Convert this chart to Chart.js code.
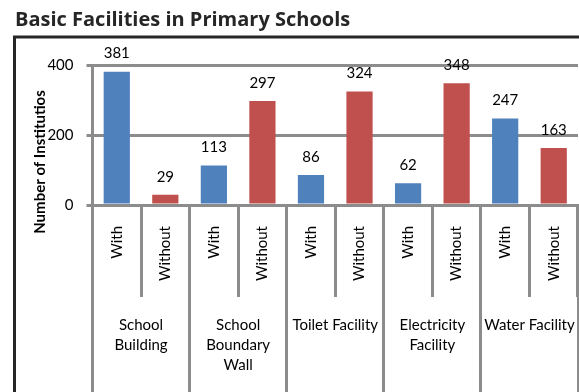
<!DOCTYPE html>
<html><head><meta charset="utf-8">
<script src="https://cdn.jsdelivr.net/npm/chart.js@4"></script>
<style>html,body{margin:0;padding:0;background:#fff}</style>
</head><body><canvas id="c" width="579" height="392"></canvas>
<script>
const titleText = 'Basic Facilities in Primary Schools';
const yAxisTitle = 'Number of Institutios';
const groups = [['School','Building'],['School','Boundary','Wall'],'Toilet Facility',['Electricity','Facility'],'Water Facility'];
const subLabels = ['With','Without'];
const withValues = [381,113,86,62,247];
const withoutValues = [29,297,324,348,163];
const yTicks = [0,200,400];

const FONT = 'Lato, "Open Sans", sans-serif';
const TFONT = '"Open Sans", Lato, sans-serif';
const GRID = '#8c8c8c';
const BLUE = '#4F81BD', RED = '#C0504D';

const labels = [], values = [], colors = [];
groups.forEach((g,i)=>{
  labels.push(subLabels[0]); values.push(withValues[i]); colors.push(BLUE);
  labels.push(subLabels[1]); values.push(withoutValues[i]); colors.push(RED);
});

const framePlugin = {
  id:'frame',
  beforeDraw(chart){
    const c = chart.ctx; c.save();
    c.strokeStyle = '#262626'; c.lineWidth = 3;
    c.strokeRect(14.5, 37, 700, 500);
    c.restore();
  }
};
const valueLabels = {
  id:'valueLabels',
  afterDatasetsDraw(chart){
    const c = chart.ctx; c.save();
    c.font = '15px ' + FONT; c.fillStyle = '#000';
    c.textAlign = 'center'; c.textBaseline = 'middle';
    const ds = chart.data.datasets[0];
    chart.getDatasetMeta(0).data.forEach((bar,i)=>{
      c.fillText(String(ds.data[i]), bar.x, bar.y - 18);
    });
    c.restore();
  }
};
const yTitlePlugin = {
  id:'yTitle',
  afterDraw(chart){
    const c = chart.ctx; c.save();
    c.translate(40, 162); c.rotate(-Math.PI/2);
    c.font = 'bold 15px ' + FONT; c.fillStyle = '#000';
    c.textAlign = 'center'; c.textBaseline = 'middle';
    c.fillText(yAxisTitle, 0, 0);
    c.restore();
  }
};

new Chart(document.getElementById('c'), {
  type:'bar',
  data:{labels, datasets:[{data:values, backgroundColor:colors, barPercentage:0.54, categoryPercentage:1}]},
  options:{
    responsive:false, animation:false, devicePixelRatio:1,
    layout:{padding:{left:15,right:1,top:0,bottom:0}},
    plugins:{
      legend:{display:false}, tooltip:{enabled:false},
      title:{display:true, text:titleText, align:'start', color:'#262626',
        font:{family:TFONT,size:20,weight:'bold'}, padding:{top:8,bottom:33}}
    },
    scales:{
      y:{min:0,max:400,
        afterBuildTicks:s=>{s.ticks = yTicks.map(v=>({value:v}));},
        ticks:{font:{family:FONT,size:15}, color:'#000', padding:13},
        grid:{color:GRID, lineWidth:3, tickLength:6},
        border:{color:GRID,width:3},
        afterFit:s=>{s.width = 77.5;}},
      x:{position:'bottom', weight:0,
        grid:{offset:true, drawOnChartArea:false, color:GRID, lineWidth:3, tickLength:92},
        border:{color:GRID,width:3},
        ticks:{autoSkip:false, minRotation:90, maxRotation:90, padding:-71, font:{family:FONT,size:15}, color:'#000'},
        afterFit:s=>{s.height = 92;}},
      x2:{type:'category', labels:groups, position:'bottom', weight:1, offset:true,
        grid:{offset:true, drawOnChartArea:false, color:GRID, lineWidth:3, tickLength:95},
        border:{display:false},
        ticks:{autoSkip:false, minRotation:0, maxRotation:0, padding:-77, font:{family:FONT,size:15,lineHeight:1.35}, color:'#000'},
        afterFit:s=>{s.height = 95;}}
    }
  },
  plugins:[framePlugin, valueLabels, yTitlePlugin]
});
</script></body></html>
